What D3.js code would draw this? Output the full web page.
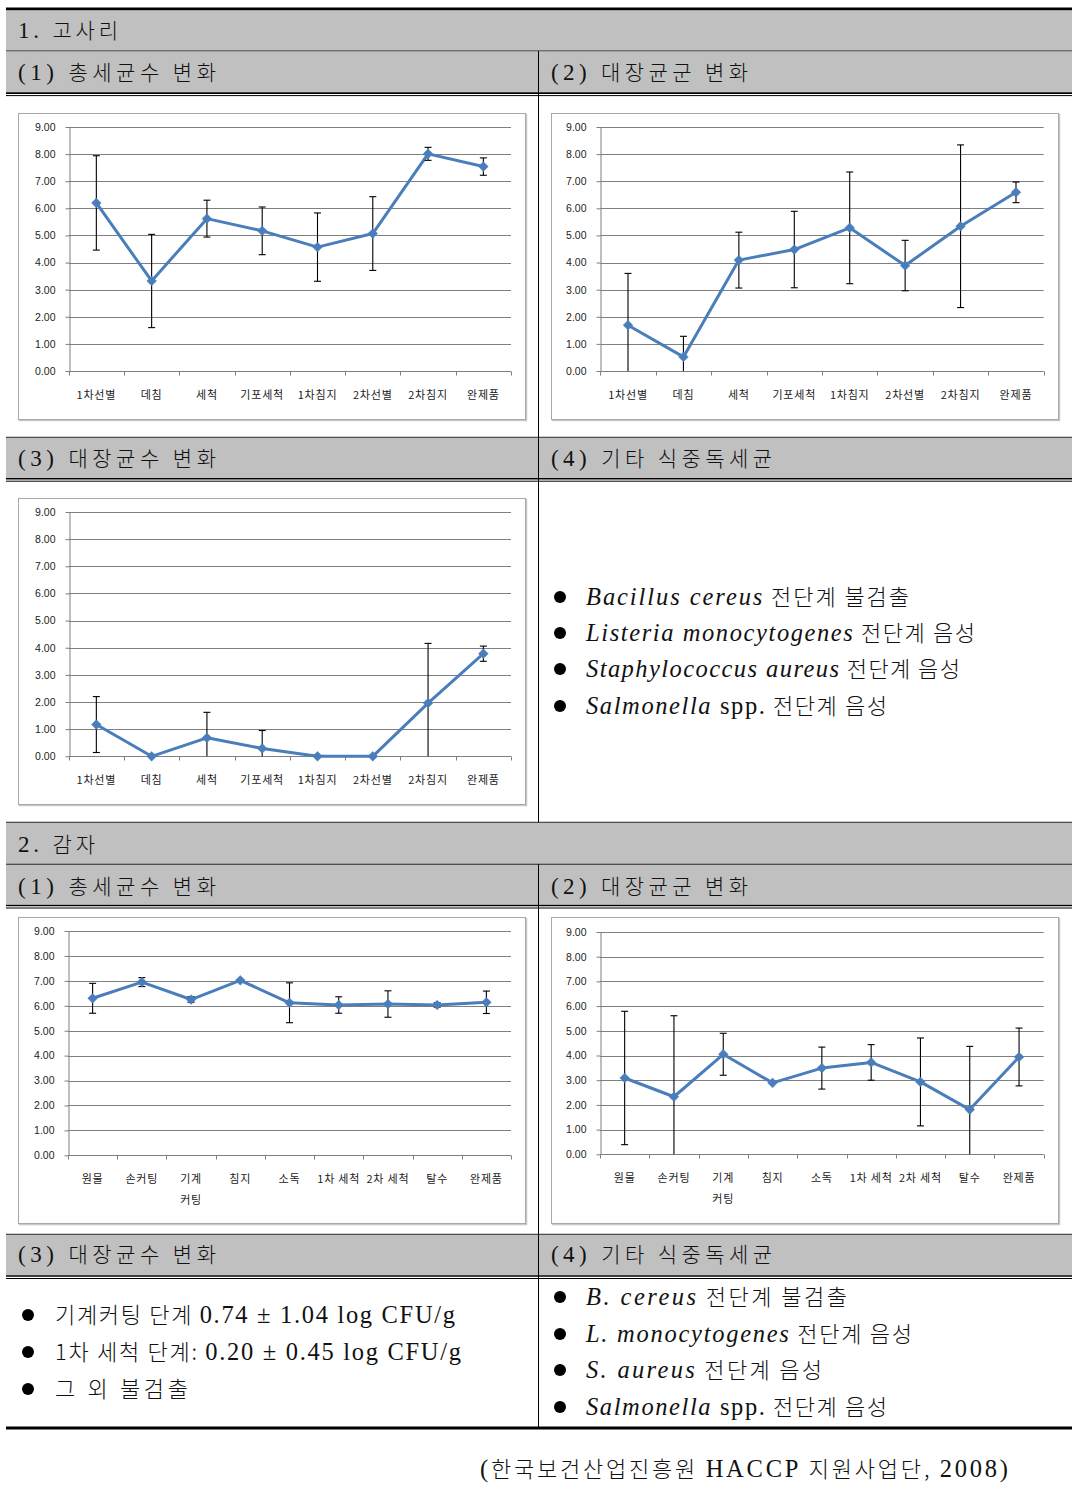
<!DOCTYPE html>
<html><head><meta charset="utf-8">
<script src="https://cdn.jsdelivr.net/npm/d3@7"></script>
<style>body{margin:0;background:#fff} svg{display:block}</style>
</head><body><svg id="c" width="1080" height="1488"></svg>
<script>
// ---------- DATA ----------
const fernSteps = ["1차선별","데침","세척","기포세척","1차침지","2차선별","2차침지","완제품"];
const fernTotalMean = [6.20, 3.32, 5.62, 5.17, 4.57, 5.07, 8.01, 7.54];
const fernTotalSD   = [1.74, 1.72, 0.68, 0.88, 1.26, 1.36, 0.24, 0.32];
const fernColiformMean = [1.69, 0.52, 4.09, 4.48, 5.28, 3.89, 5.34, 6.59];
const fernColiformSD   = [1.91, 0.76, 1.03, 1.41, 2.06, 0.93, 3.00, 0.38];
const fernEcoliMean = [1.17, 0.00, 0.68, 0.29, 0.00, 0.00, 1.96, 3.78];
const fernEcoliSD   = [1.03, 0.00, 0.94, 0.66, 0.00, 0.00, 2.20, 0.28];
const potatoSteps = ["원물","손커팅","기계\n커팅","침지","소독","1차 세척","2차 세척","탈수","완제품"];
const potatoTotalMean = [6.30, 6.95, 6.25, 7.02, 6.12, 6.03, 6.07, 6.03, 6.14];
const potatoTotalSD   = [0.60, 0.18, 0.11, 0.03, 0.80, 0.33, 0.53, 0.09, 0.45];
const potatoColiformMean = [3.09, 2.33, 4.05, 2.89, 3.49, 3.72, 2.93, 1.81, 3.94];
const potatoColiformSD   = [2.70, 3.28, 0.85, 0.00, 0.85, 0.72, 1.78, 2.56, 1.17];
const yTicks = [0,1,2,3,4,5,6,7,8,9];

// ---------- TEXT ----------
const SERIF = "'Liberation Serif','DejaVu Serif','Noto Sans CJK KR',serif";
const KR = "'Noto Sans CJK KR','Liberation Serif',serif";
const svg = d3.select("#c");

function line(x1,y1,x2,y2,w,c){
  svg.append("line").attr("x1",x1).attr("y1",y1).attr("x2",x2).attr("y2",y2)
    .attr("stroke",c||"#000").attr("stroke-width",w||1);
}
function grayRow(x1,y1,x2,y2){
  svg.append("rect").attr("x",x1).attr("y",y1).attr("width",x2-x1).attr("height",y2-y1).attr("fill","#c0c0c0");
}
// parts: [text, italic, latinSerif]
function txt(x, cy, parts, width, fs, lfs){
  const t = svg.append("text").attr("x",x).attr("y",cy + fs*0.36)
    .attr("font-size",fs).attr("fill","#111").attr("font-family",KR).attr("font-weight",300);
  parts.forEach(p=>{
    const s = t.append("tspan").text(p[0]);
    if(p[1]||p[2]) s.attr("font-family",SERIF).attr("font-weight",400).attr("font-size",lfs||fs);
    if(p[1]) s.attr("font-style","italic");
  });
  if(width) t.attr("textLength",width).attr("lengthAdjust","spacing");
  return t;
}
function bullet(x, cy){
  svg.append("circle").attr("cx",x).attr("cy",cy).attr("r",6).attr("fill","#000");
}

// ---------- TABLE ----------
const L=6, R=1072, M=538.5;
line(L,9,R,9,3);
grayRow(L,10.5,R,50.5);
line(L,51,R,51,1);
grayRow(L,51.5,R,92.2);
line(L,93.1,R,93.1,1.6); line(L,95.6,R,95.6,1);
line(L,437.3,R,437.3,1);
grayRow(L,437.8,R,478);
line(L,478.8,R,478.8,1.6); line(L,481.2,R,481.2,1);
line(L,822.3,R,822.3,1);
grayRow(L,822.8,R,864);
line(L,864.3,R,864.3,1);
grayRow(L,864.8,R,904.6);
line(L,905.5,R,905.5,1.6); line(L,908,R,908,1);
line(L,1234.3,R,1234.3,1);
grayRow(L,1234.8,R,1275.2);
line(L,1276,R,1276,1.6); line(L,1278.5,R,1278.5,1);
line(L,1428,R,1428,3);
line(M,51,M,822.3,1);
line(M,864.3,M,1428,1);

const HF = 21;
txt(18, 30, [["1. ",0,1],["고사리"]], 100, HF, 23);
txt(18, 72, [["(1) ",0,1],["총세균수 변화"]], 198, HF, 23);
txt(551, 72, [["(2) ",0,1],["대장균군 변화"]], 197, HF, 23);
txt(18, 458, [["(3) ",0,1],["대장균수 변화"]], 198, HF, 23);
txt(551, 458, [["(4) ",0,1],["기타 식중독세균"]], 221, HF, 23);
txt(18, 844, [["2. ",0,1],["감자"]], 77, HF, 23);
txt(18, 886, [["(1) ",0,1],["총세균수 변화"]], 198, HF, 23);
txt(551, 886, [["(2) ",0,1],["대장균군 변화"]], 197, HF, 23);
txt(18, 1254, [["(3) ",0,1],["대장균수 변화"]], 198, HF, 23);
txt(551, 1254, [["(4) ",0,1],["기타 식중독세균"]], 221, HF, 23);

const BF = 22, LF = 24.5;
[[597,[["Bacillus cereus",1],[" 전단계 불검출"]],323],
 [633,[["Listeria monocytogenes",1],[" 전단계 음성"]],389],
 [669,[["Staphylococcus aureus",1],[" 전단계 음성"]],374],
 [706,[["Salmonella",1],[" spp.",0,1],[" 전단계 음성"]],301]].forEach(d=>{
  bullet(560,d[0]); txt(586,d[0],d[1],d[2],BF,LF);
});
[[1315,[["기계커팅 단계 "],["0.74 ± 1.04 log CFU/g",0,1]],400],
 [1352,[["1차 세척 단계: "],["0.20 ± 0.45 log CFU/g",0,1]],406],
 [1389,[["그 외 불검출"]],133]].forEach(d=>{
  bullet(28,d[0]); txt(55,d[0],d[1],d[2],BF,LF);
});
[[1297,[["B. cereus",1],[" 전단계 불검출"]],261],
 [1334,[["L. monocytogenes",1],[" 전단계 음성"]],326],
 [1370,[["S. aureus",1],[" 전단계 음성"]],236],
 [1407,[["Salmonella",1],[" spp.",0,1],[" 전단계 음성"]],301]].forEach(d=>{
  bullet(560,d[0]); txt(586,d[0],d[1],d[2],BF,LF);
});
txt(480, 1469, [["(",0,1],["한국보건산업진흥원 "],["HACCP",0,1],[" 지원사업단, "],["2008)",0,1]], 528, BF, LF);

// ---------- CHARTS ----------
function chart(cfg){
  const g = svg.append("g").attr("transform",`translate(${cfg.x0},${cfg.y0})`);
  g.append("rect").attr("x",1.5).attr("y",1.5).attr("width",cfg.w-1).attr("height",cfg.h-1)
    .attr("fill","none").attr("stroke","#c8c8c8").attr("stroke-width",1.5);
  g.append("rect").attr("x",0.5).attr("y",0.5).attr("width",cfg.w-1).attr("height",cfg.h-1)
    .attr("fill","#fff").attr("stroke","#a8a8a8").attr("stroke-width",1);
  const y = d3.scaleLinear().domain([0,9]).range([cfg.pb,cfg.pt]);
  const x = d3.scaleBand().domain(d3.range(cfg.cats.length)).range([cfg.pl,cfg.pr]);
  // gridlines
  g.append("g").selectAll("line").data(yTicks.filter(v=>v>0)).join("line")
    .attr("x1",cfg.pl).attr("x2",cfg.pr).attr("y1",d=>Math.round(y(d))+0.5).attr("y2",d=>Math.round(y(d))+0.5)
    .attr("stroke","#7f7f7f").attr("stroke-width",1);
  // y axis
  const ya = g.append("g").attr("transform",`translate(${Math.round(cfg.pl)+0.5},0)`)
    .call(d3.axisLeft(y).tickValues(yTicks).tickFormat(d3.format(".2f")).tickSizeInner(4).tickSizeOuter(0).tickPadding(10));
  ya.select(".domain").attr("stroke","#7f7f7f");
  ya.selectAll(".tick line").attr("stroke","#7f7f7f");
  ya.selectAll("text").attr("font-family","'Liberation Sans','DejaVu Sans',sans-serif").attr("font-size",10.5).attr("fill","#222");
  // x axis
  const y0 = Math.round(y(0))+0.5;
  g.append("line").attr("x1",cfg.pl).attr("x2",cfg.pr).attr("y1",y0).attr("y2",y0).attr("stroke","#7f7f7f");
  g.append("g").selectAll("line").data(d3.range(cfg.cats.length+1)).join("line")
    .attr("x1",i=>Math.round(cfg.pl + i*x.step())+0.5).attr("x2",i=>Math.round(cfg.pl + i*x.step())+0.5)
    .attr("y1",y0).attr("y2",y0+4).attr("stroke","#7f7f7f");
  const lab = g.append("g").selectAll("text").data(cfg.cats).join("text")
    .attr("x",(d,i)=>x(i)+x.bandwidth()/2).attr("y",cfg.pb+cfg.ly)
    .attr("text-anchor","middle").attr("font-family","'Noto Sans CJK KR',sans-serif")
    .attr("font-size",11).attr("letter-spacing",0.8).attr("fill","#222");
  lab.each(function(d){
    const el = d3.select(this);
    d.split("\n").forEach((s,k)=>{
      el.append("tspan").attr("x",el.attr("x")).attr("dy",k===0?0:21).text(s);
    });
  });
  const cx = i=>x(i)+x.bandwidth()/2;
  const pts = cfg.mean.map((m,i)=>[cx(i),y(m)]);
  g.append("path").attr("d",d3.line()(pts)).attr("fill","none").attr("stroke","#4a7ebb").attr("stroke-width",3).attr("stroke-linejoin","round");
  const eb = g.append("g").attr("stroke","#000").attr("stroke-width",1.1);
  cfg.mean.forEach((m,i)=>{
    const s = cfg.sd[i]; if(!s) return;
    const lo = Math.max(0,m-s), hi = m+s, xc = cx(i);
    eb.append("line").attr("x1",xc).attr("x2",xc).attr("y1",y(lo)).attr("y2",y(hi));
    eb.append("line").attr("x1",xc-3.5).attr("x2",xc+3.5).attr("y1",y(hi)).attr("y2",y(hi));
    if(m-s>0) eb.append("line").attr("x1",xc-3.5).attr("x2",xc+3.5).attr("y1",y(lo)).attr("y2",y(lo));
  });
  g.append("g").selectAll("path").data(pts).join("path")
    .attr("transform",d=>`translate(${d[0]},${d[1]})`)
    .attr("d",d3.symbol(d3.symbolDiamond2,60)())
    .attr("fill","#4a7ebb").attr("stroke","#4a7ebb").attr("stroke-width",0.5);
}

chart({x0:18,y0:113,w:508,h:307,pl:50.7,pr:493,pt:14,pb:258,ly:28,cats:fernSteps,mean:fernTotalMean,sd:fernTotalSD});
chart({x0:551,y0:113,w:508,h:307,pl:49.3,pr:492.7,pt:14,pb:258,ly:28,cats:fernSteps,mean:fernColiformMean,sd:fernColiformSD});
chart({x0:18,y0:498,w:508,h:307,pl:50.7,pr:493,pt:14,pb:258.3,ly:28,cats:fernSteps,mean:fernEcoliMean,sd:fernEcoliSD});
chart({x0:18,y0:917,w:508,h:307,pl:50,pr:493,pt:14,pb:238.3,ly:28,cats:potatoSteps,mean:potatoTotalMean,sd:potatoTotalSD});
chart({x0:551,y0:917,w:508,h:307,pl:49,pr:492.7,pt:15,pb:237.3,ly:28,cats:potatoSteps,mean:potatoColiformMean,sd:potatoColiformSD});
</script></body></html>
